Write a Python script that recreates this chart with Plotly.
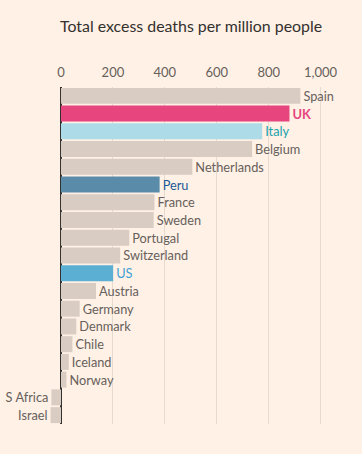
import plotly.graph_objects as go

countries = ["Spain", "UK", "Italy", "Belgium", "Netherlands", "Peru", "France", "Sweden",
             "Portugal", "Switzerland", "US", "Austria", "Germany", "Denmark", "Chile",
             "Iceland", "Norway", "S Africa", "Israel"]
excess = [922, 880, 775, 736, 506, 380, 360, 357, 263, 228, 201, 135, 72, 59, 44, 30, 21, -37, -40]
tick_vals = [0, 200, 400, 600, 800, 1000]
tick_text = ["0", "200", "400", "600", "800", "1,000"]

highlight_bar = {"UK": "#E6457E", "Italy": "#ADDCE8", "Peru": "#5A8CAA", "US": "#5BAFD3"}
highlight_lab = {"UK": "#E6457E", "Italy": "#17A2AD", "Peru": "#1B5A96", "US": "#3E9FD6"}
base_bar = "#D9CCC3"
base_lab = "#66605C"

bar_colors = [highlight_bar.get(c, base_bar) for c in countries]
lab_colors = [highlight_lab.get(c, base_lab) for c in countries]
lab_sizes = [17 if c == "UK" else 12.8 for c in countries]
labels = [f"<b>{c}</b>" if c == "UK" else c for c in countries]

fig = go.Figure(go.Bar(
    x=excess, y=countries, orientation="h",
    marker=dict(color=bar_colors, line=dict(width=0)),
    text=labels, textposition="outside", cliponaxis=False,
    textfont=dict(color=lab_colors, size=lab_sizes, family="Lato"),
    hoverinfo="skip",
))

fig.update_layout(
    width=362, height=454,
    paper_bgcolor="#FFF1E5", plot_bgcolor="#FFF1E5",
    margin=dict(l=48, r=31, t=87, b=30),
    bargap=0.1,
    showlegend=False,
    font=dict(family="Lato", color="#66605C"),
    xaxis=dict(
        side="top", range=[-50, 1040],
        tickvals=tick_vals, ticktext=tick_text,
        tickfont=dict(size=13, color="#66605C"),
        showgrid=True, gridcolor="#E6D9CE", gridwidth=1,
        zeroline=True, zerolinecolor="#33302E", zerolinewidth=1.5,
        showline=False, ticks="", ticklabelstandoff=6, fixedrange=True,
    ),
    yaxis=dict(
        autorange="reversed", showticklabels=False, showgrid=False,
        zeroline=False, showline=False, ticks="", fixedrange=True,
    ),
    annotations=[dict(
        text="Total excess deaths per million people",
        xref="paper", yref="paper", x=0.035, y=1, yshift=62,
        xanchor="left", yanchor="middle", showarrow=False,
        font=dict(size=15.9, color="#33302E", family="Lato"),
    )],
)

fig.write_html(
    "out.html",
    config={"displayModeBar": False, "staticPlot": True},
    post_script="document.body.style.margin='0';document.body.style.background='#FFF1E5';",
)
